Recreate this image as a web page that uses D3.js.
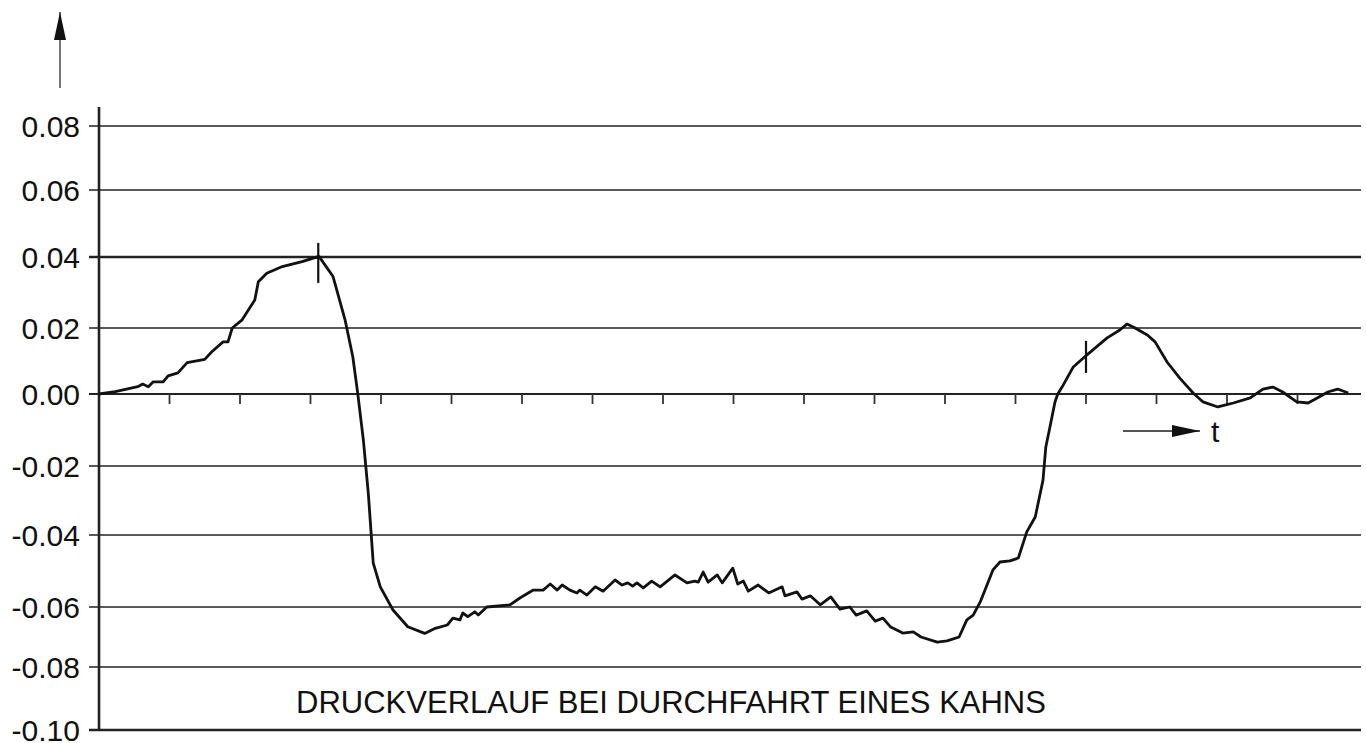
<!DOCTYPE html>
<html>
<head>
<meta charset="utf-8">
<script src="https://cdn.jsdelivr.net/npm/d3@7"></script>
<style>
  body { margin: 0; background: #fff; }
  text { font-family: "Liberation Sans", Arial, sans-serif; fill: #111; }
</style>
</head>
<body>
<svg id="chart" width="1366" height="743"></svg>
<script>
// pressure trace, time in tick units
var tVals = [0, 0.23, 0.55, 0.62, 0.70, 0.77, 0.91, 0.98, 1.12, 1.25, 1.50, 1.60, 1.76, 1.83, 1.89, 2.03, 2.21, 2.26, 2.38, 2.60, 2.88, 3.12,
  3.32, 3.49, 3.60, 3.67, 3.75, 3.82, 3.89, 3.99, 4.17, 4.38, 4.62, 4.77, 4.94, 5.02, 5.12, 5.16, 5.23, 5.33, 5.38, 5.50, 5.83, 5.97,
  6.16, 6.30, 6.40, 6.50, 6.57, 6.68, 6.78, 6.82, 6.92, 7.04, 7.15, 7.32, 7.42, 7.50, 7.57, 7.63, 7.72, 7.84, 7.96, 8.17, 8.34, 8.45,
  8.50, 8.57, 8.64, 8.77, 8.84, 8.99, 9.06, 9.14, 9.21, 9.35, 9.50, 9.69, 9.73, 9.90, 9.97, 10.09, 10.23, 10.38, 10.51, 10.65, 10.74,
  10.89, 11.01, 11.12, 11.23, 11.40, 11.55, 11.66, 11.89, 12.03, 12.20, 12.31, 12.40, 12.50, 12.68, 12.78, 12.92, 13.04, 13.16, 13.28,
  13.39, 13.43, 13.48, 13.56, 13.60, 13.66, 13.82, 14.01, 14.30, 14.48, 14.58, 14.67, 14.87, 14.98, 15.15, 15.33, 15.52, 15.66, 15.87,
  16.09, 16.33, 16.51, 16.65, 16.79, 16.99, 17.15, 17.28, 17.43, 17.57, 17.72];
var pVals = [0, 0.0007, 0.0022, 0.0030, 0.0022, 0.0037, 0.0037, 0.0055, 0.0064, 0.0095, 0.0105, 0.0128, 0.0158, 0.0158, 0.0200, 0.0223, 0.0279, 0.0330, 0.0354, 0.0373, 0.0387, 0.0402,
  0.0345, 0.0223, 0.0113, 0.0002, -0.0128, -0.0279, -0.0478, -0.0544, -0.0610, -0.0666, -0.0688, -0.0671, -0.0660, -0.0637, -0.0643, -0.0620, -0.0632, -0.0616, -0.0627, -0.0600, -0.0594, -0.0575,
  -0.0553, -0.0553, -0.0536, -0.0553, -0.0539, -0.0553, -0.0561, -0.0553, -0.0567, -0.0544, -0.0556, -0.0525, -0.0539, -0.0533, -0.0542, -0.0533, -0.0547, -0.0528, -0.0544, -0.0511, -0.0533, -0.0528,
  -0.0531, -0.0503, -0.0531, -0.0511, -0.0533, -0.0492, -0.0536, -0.0528, -0.0556, -0.0539, -0.0561, -0.0544, -0.0569, -0.0558, -0.0578, -0.0569, -0.0594, -0.0572, -0.0607, -0.0600, -0.0627,
  -0.0613, -0.0647, -0.0637, -0.0667, -0.0687, -0.0683, -0.0700, -0.0717, -0.0713, -0.0700, -0.0643, -0.0627, -0.0586, -0.0497, -0.0475, -0.0472, -0.0464, -0.0391, -0.0348,
  -0.0241, -0.0147, -0.0100, -0.0022, 0, 0.0021, 0.0082, 0.0118, 0.0170, 0.0194, 0.0211, 0.0203, 0.0179, 0.0158, 0.0097, 0.0048, 0.0003, -0.0022, -0.0036,
  -0.0025, -0.0011, 0.0015, 0.0021, 0.0006, -0.0022, -0.0025, -0.0011, 0.0006, 0.0015, 0.0003];

var yTicks = [0.08, 0.06, 0.04, 0.02, 0.00, -0.02, -0.04, -0.06, -0.08, -0.10];
var xTicks = [1, 2, 3, 4, 5, 6, 7, 8, 9, 10, 11, 12, 13, 14, 15, 16, 17];
// short vertical marks on the curve: time, low, high
var markT = [3.11, 14.0];
var markLo = [0.0327, 0.0064];
var markHi = [0.0442, 0.0161];
var title = "DRUCKVERLAUF BEI DURCHFAHRT EINES KAHNS";
var tLabel = "t";

var svg = d3.select("#chart");

var x = d3.scaleLinear().domain([0, 18]).range([99, 1368]);
// scanned grid is slightly uneven, so a polylinear scale
var y = d3.scaleLinear()
  .domain(yTicks)
  .range([126, 190, 257, 328, 394, 466, 535, 607, 667, 730]);

var xEnd = 1361;

// horizontal grid lines + left tick stubs
svg.append("g")
  .selectAll("line")
  .data(yTicks)
  .join("line")
    .attr("x1", 89)
    .attr("x2", xEnd)
    .attr("y1", d => y(d))
    .attr("y2", d => y(d))
    .attr("stroke", "#222")
    .attr("stroke-width", d => (d == 0.04 || d == -0.10) ? 2.6 : (d == 0 ? 2 : 1.6));

// y labels
svg.append("g")
  .selectAll("text")
  .data(yTicks)
  .join("text")
    .attr("x", 80)
    .attr("y", d => y(d) + 11)
    .style("text-anchor", "end")
    .style("font-size", "30px")
    .text(d => d.toFixed(2));

// y axis line
svg.append("line")
  .attr("x1", x(0)).attr("x2", x(0))
  .attr("y1", 107).attr("y2", y(-0.10) + 1)
  .attr("stroke", "#222")
  .attr("stroke-width", 2.6);

// ticks hanging from the zero line
svg.append("g")
  .selectAll("line")
  .data(xTicks)
  .join("line")
    .attr("x1", d => x(d)).attr("x2", d => x(d))
    .attr("y1", y(0)).attr("y2", y(0) + 10)
    .attr("stroke", "#333")
    .attr("stroke-width", 1.8);

// the pressure curve
var pts = tVals.map((t, i) => [t, pVals[i]]);
var line = d3.line()
  .x(d => x(d[0]))
  .y(d => y(d[1]));

svg.append("path")
  .datum(pts)
  .attr("d", line)
  .attr("fill", "none")
  .attr("stroke", "#111")
  .attr("stroke-width", 2.8)
  .attr("stroke-linejoin", "round");

// marks
svg.append("g")
  .selectAll("line")
  .data(markT)
  .join("line")
    .attr("x1", d => x(d)).attr("x2", d => x(d))
    .attr("y1", (d, i) => y(markHi[i]))
    .attr("y2", (d, i) => y(markLo[i]))
    .attr("stroke", "#111")
    .attr("stroke-width", 2.2);

// arrow heads
var defs = svg.append("defs");
defs.append("marker")
  .attr("id", "head")
  .attr("viewBox", "0 0 28 12")
  .attr("refX", 28).attr("refY", 6)
  .attr("markerWidth", 28).attr("markerHeight", 12)
  .attr("markerUnits", "userSpaceOnUse")
  .attr("orient", "auto")
  .append("path")
    .attr("d", "M0,0 L28,6 L0,12 Z")
    .attr("fill", "#111");

// top arrow (y direction)
svg.append("line")
  .attr("x1", 60).attr("x2", 60)
  .attr("y1", 88).attr("y2", 12)
  .attr("stroke", "#555")
  .attr("stroke-width", 1.6)
  .attr("marker-end", "url(#head)");

// time arrow
svg.append("line")
  .attr("x1", 1123).attr("x2", 1200)
  .attr("y1", 431).attr("y2", 431)
  .attr("stroke", "#555")
  .attr("stroke-width", 2)
  .attr("marker-end", "url(#head)");

svg.append("text")
  .attr("x", 1211)
  .attr("y", 442)
  .style("font-size", "30px")
  .text(tLabel);

svg.append("text")
  .attr("x", 671)
  .attr("y", 713)
  .style("text-anchor", "middle")
  .style("font-size", "31px")
  .text(title);
</script>
</body>
</html>
